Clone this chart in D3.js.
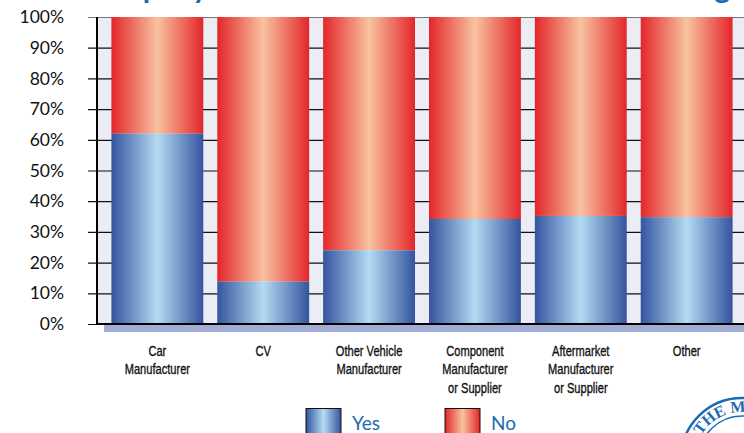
<!DOCTYPE html>
<html>
<head>
<meta charset="utf-8">
<script src="https://cdn.jsdelivr.net/npm/d3@7"></script>
<style>
  body { margin: 0; background: #fff; }
  svg { display: block; }
</style>
</head>
<body>
<div id="chart"></div>
<script>
// data
var categories = [["Car", "Manufacturer"], ["CV"], ["Other Vehicle", "Manufacturer"],
  ["Component", "Manufacturer", "or  Supplier"], ["Aftermarket", "Manufacturer", "or  Supplier"], ["Other"]];
var yesValues = [62, 13.8, 24, 34.2, 35.2, 34.8];
var noValues = yesValues.map(d => 100 - d);
var tickValues = [0, 10, 20, 30, 40, 50, 60, 70, 80, 90, 100];

var svgWidth = 744, svgHeight = 433;
var plot = { left: 97, top: 17, bottom: 324 };
var blue = "#1b6bb4";

var svg = d3.select("#chart").append("svg")
  .attr("width", svgWidth)
  .attr("height", svgHeight);

var defs = svg.append("defs");
function grad(id, edge, mid) {
  var g = defs.append("linearGradient").attr("id", id)
    .attr("x1", "0%").attr("x2", "100%").attr("y1", "0%").attr("y2", "0%");
  g.append("stop").attr("offset", "0%").attr("stop-color", edge);
  g.append("stop").attr("offset", "50%").attr("stop-color", mid);
  g.append("stop").attr("offset", "100%").attr("stop-color", edge);
}
grad("gYes", "#34549f", "#b4dbf2");
grad("gNo", "#e3262a", "#f8c2a0");

var x = d3.scaleBand()
  .domain(d3.range(categories.length))
  .range([104, 740])
  .paddingInner(0.132)
  .paddingOuter(0.07);

var y = d3.scaleLinear().domain([0, 100]).range([plot.bottom, plot.top]);

// title (cut off at top, only descenders show)
svg.append("text")
  .attr("x", 80).attr("y", -2)
  .attr("font-family", "Lato, sans-serif")
  .attr("font-weight", "bold")
  .attr("font-size", 30)
  .attr("fill", blue)
  .attr("textLength", 650)
  .attr("lengthAdjust", "spacing")
  .text("Company Involvement in Vehicle Manufacturing");

// shadow strip under plot
svg.append("rect")
  .attr("x", 104).attr("y", plot.bottom + 1)
  .attr("width", svgWidth - 104).attr("height", 7)
  .attr("fill", "#a3acd4");

// plot background
svg.append("rect")
  .attr("x", plot.left).attr("y", plot.top)
  .attr("width", svgWidth - plot.left).attr("height", plot.bottom - plot.top)
  .attr("fill", "#ececf5");

// grid lines + ticks
svg.append("g").selectAll("line")
  .data(tickValues)
  .join("line")
  .attr("x1", 88).attr("x2", svgWidth)
  .attr("y1", d => y(d) + 0.5).attr("y2", d => y(d) + 0.5)
  .attr("stroke", d => d == 100 ? "#777" : "#111")
  .attr("stroke-width", 1.2);

// y axis labels
var yAxis = d3.axisLeft(y).tickValues(tickValues).tickFormat(d => d + "%").tickSize(0).tickPadding(0);
var yg = svg.append("g").attr("transform", "translate(64,0)").call(yAxis);
yg.select(".domain").remove();
yg.selectAll("text")
  .attr("font-family", "Lato, sans-serif")
  .attr("font-size", 17.5)
  .attr("fill", "#111");

// bars
var bars = svg.append("g");
bars.selectAll(".no")
  .data(noValues)
  .join("rect")
  .attr("x", (d, i) => x(i))
  .attr("y", y(100))
  .attr("width", x.bandwidth())
  .attr("height", (d, i) => y(yesValues[i]) - y(100))
  .attr("fill", "url(#gNo)");
bars.selectAll(".yes")
  .data(yesValues)
  .join("rect")
  .attr("x", (d, i) => x(i))
  .attr("y", d => y(d))
  .attr("width", x.bandwidth())
  .attr("height", d => y(0) - y(d))
  .attr("fill", "url(#gYes)");

// frame
svg.append("line").attr("x1", plot.left).attr("x2", plot.left)
  .attr("y1", plot.top).attr("y2", plot.bottom + 1)
  .attr("stroke", "#000").attr("stroke-width", 2);
svg.append("line").attr("x1", plot.left).attr("x2", svgWidth)
  .attr("y1", plot.bottom).attr("y2", plot.bottom)
  .attr("stroke", "#000").attr("stroke-width", 2);

// category labels (condensed)
var labels = svg.append("g");
categories.forEach(function(lines, i) {
  var t = labels.append("text")
    .attr("transform", "translate(" + (x(i) + x.bandwidth() / 2) + ",356) scale(0.74,1)")
    .attr("text-anchor", "middle")
    .attr("font-family", "'Liberation Sans', Arial, sans-serif")
    .attr("font-size", 15)
    .attr("fill", "#111")
    .attr("stroke", "#111")
    .attr("stroke-width", 0.35);
  lines.forEach(function(l, j) {
    t.append("tspan").attr("x", 0).attr("dy", j == 0 ? 0 : 18.5).text(l);
  });
});

// legend
var legend = [["Yes", "url(#gYes)", 306], ["No", "url(#gNo)", 445]];
legend.forEach(function(l) {
  svg.append("rect").attr("x", l[2]).attr("y", 408.5).attr("width", 35).attr("height", 30)
    .attr("fill", l[1]).attr("stroke", "#111").attr("stroke-width", 1);
  svg.append("text").attr("x", l[2] + 46).attr("y", 430)
    .attr("font-family", "Lato, sans-serif").attr("font-size", 19)
    .attr("fill", blue).text(l[0]);
});

// seal in the corner
var cx = 742, cy = 459;
svg.append("circle").attr("cx", cx).attr("cy", cy).attr("r", 61)
  .attr("fill", "none").attr("stroke", blue).attr("stroke-width", 2.5);
svg.append("circle").attr("cx", cx).attr("cy", cy).attr("r", 43)
  .attr("fill", "none").attr("stroke", blue).attr("stroke-width", 1.5);
var rText = 47, a0 = -Math.PI / 3, a1 = Math.PI * 0.6;
defs.append("path").attr("id", "sealArc")
  .attr("d", "M" + (cx + rText * Math.sin(a0)) + "," + (cy - rText * Math.cos(a0)) +
    " A" + rText + "," + rText + " 0 0,1 " + (cx + rText * Math.sin(a1)) + "," + (cy - rText * Math.cos(a1)));
svg.append("text")
  .attr("font-family", "'Liberation Serif', serif")
  .attr("font-weight", "bold")
  .attr("font-size", 16)
  .attr("fill", blue)
  .append("textPath").attr("href", "#sealArc").attr("startOffset", 0)
  .text("THE MOTOR");
</script>
</body>
</html>
